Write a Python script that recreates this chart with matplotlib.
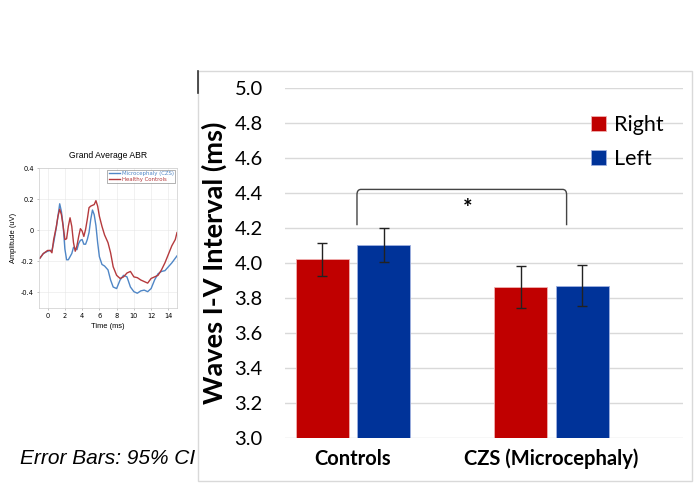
import matplotlib.pyplot as plt
from matplotlib.path import Path
from matplotlib.patches import PathPatch, Rectangle
import numpy as np

# main chart data
groups = ['Controls', 'CZS (Microcephaly)']
right = [4.02, 3.86]
left = [4.10, 3.87]
right_err = [0.095, 0.12]
left_err = [0.097, 0.118]

# inset ABR data
t_ms = [-0.9, -0.5, 0.0, 0.3, 0.5, 0.7, 1.0, 1.2, 1.4, 1.6, 1.8, 2.0, 2.2, 2.4, 2.6, 2.8,
        3.0, 3.2, 3.4, 3.6, 3.8, 4.0, 4.2, 4.4, 4.6, 4.8, 5.0, 5.2, 5.4, 5.6, 5.8, 6.0,
        6.3, 6.6, 7.0, 7.3, 7.6, 8.0, 8.4, 8.8, 9.2, 9.6, 10.0, 10.4, 10.8, 11.2, 11.6,
        12.0, 12.4, 12.8, 13.2, 13.6, 14.0, 14.4, 14.8, 15.0]
czs_abr = [-0.18, -0.15, -0.135, -0.13, -0.13, -0.08, 0.015, 0.09, 0.17, 0.12, 0.03, -0.12,
           -0.19, -0.19, -0.17, -0.15, -0.11, -0.12, -0.125, -0.085, -0.065, -0.06, -0.09,
           -0.09, -0.06, -0.015, 0.07, 0.13, 0.10, 0.03, -0.08, -0.17, -0.22, -0.23, -0.255,
           -0.32, -0.365, -0.375, -0.32, -0.29, -0.30, -0.365, -0.395, -0.405, -0.39, -0.385,
           -0.395, -0.375, -0.32, -0.28, -0.265, -0.26, -0.235, -0.21, -0.18, -0.165]
ctl_abr = [-0.18, -0.15, -0.13, -0.13, -0.145, -0.06, 0.02, 0.09, 0.135, 0.10, 0.025, -0.06,
           -0.055, 0.025, 0.08, 0.025, -0.08, -0.135, -0.10, -0.04, 0.01, -0.005, -0.04,
           0.005, 0.07, 0.145, 0.155, 0.16, 0.165, 0.19, 0.155, 0.09, 0.025, -0.03, -0.08,
           -0.145, -0.235, -0.29, -0.31, -0.30, -0.275, -0.265, -0.30, -0.305, -0.32, -0.33,
           -0.34, -0.31, -0.30, -0.29, -0.255, -0.21, -0.155, -0.10, -0.06, -0.015]

fig = plt.figure(figsize=(6.94, 4.92), dpi=100)
W, H = 694, 492


def fx(px):
    return px / W


def fy(py):
    return 1 - py / H


# frame around the bar chart
fig.patches.append(Rectangle((fx(198), fy(481)), fx(692) - fx(198), fy(71) - fy(481),
                             transform=fig.transFigure, fill=False, ec='#d9d9d9', lw=1))
fig.lines.append(plt.Line2D([fx(198), fx(198)], [fy(71), fy(93)], transform=fig.transFigure,
                            color='#333333', lw=1.2))

# ---- bar chart ----
ax = fig.add_axes([fx(285), fy(437.7), fx(683) - fx(285), fy(88) - fy(437.7)])
x = np.arange(len(groups))
w = 0.267
ax.bar(x - 0.155, right, w, color='#C00000', edgecolor='#f0b0b0', lw=0.6, label='Right', zorder=3)
ax.bar(x + 0.155, left, w, color='#003399', edgecolor='#9fb0e0', lw=0.6, label='Left', zorder=3)
ax.errorbar(x - 0.155, right, yerr=right_err, fmt='none', ecolor='#222222', elinewidth=1,
            capsize=3.5, capthick=1, zorder=4)
ax.errorbar(x + 0.155, left, yerr=left_err, fmt='none', ecolor='#222222', elinewidth=1,
            capsize=3.5, capthick=1, zorder=4)

ax.set_ylim(3.0, 5.0)
ax.set_xlim(-0.343, 1.664)
ax.set_yticks(np.arange(3.0, 5.01, 0.2))
ax.set_yticklabels(['%.1f' % v for v in np.arange(3.0, 5.01, 0.2)], fontsize=14.5,
                   family='Lato')
ax.set_xticks(x)
ax.set_xticklabels(groups, fontsize=14.5, fontweight='bold', family='Lato')
ax.tick_params(axis='y', length=0, pad=16)
ax.tick_params(axis='x', length=0, pad=8)
ax.grid(axis='y', color='#d9d9d9', lw=1, zorder=0)
for s in ax.spines.values():
    s.set_visible(False)
ax.set_ylabel('Waves I-V Interval (ms)', fontsize=19.5, fontweight='bold', family='Lato')
ax.yaxis.set_label_coords(-0.145, 0.5)

# significance bracket
bx0, bx1, by0, by1, r = 0.02, 1.077, 4.215, 4.42, 0.02
verts = [(bx0, by0), (bx0, by1 - 0.03), (bx0, by1), (bx0 + r, by1), (bx1 - r, by1),
         (bx1, by1), (bx1, by1 - 0.03), (bx1, by0)]
codes = [Path.MOVETO, Path.LINETO, Path.CURVE3, Path.CURVE3, Path.LINETO,
         Path.CURVE3, Path.CURVE3, Path.LINETO]
ax.add_patch(PathPatch(Path(verts, codes), fill=False, ec='#444444', lw=1, zorder=5))
ax.text(0.576, 4.31, '*', ha='center', va='center', fontsize=16, fontweight='bold',
        family='Lato')

ax.legend(loc='upper left', bbox_to_anchor=(fx(580), fy(104)), bbox_transform=fig.transFigure,
          frameon=False, prop={'family': 'Lato', 'size': 15.5}, handlelength=0.7,
          handleheight=0.7, handletextpad=0.4, labelspacing=0.65, borderpad=0)

# ---- inset ABR plot ----
ax2 = fig.add_axes([fx(39), fy(308), fx(177) - fx(39), fy(168) - fy(308)])
ax2.plot(t_ms, czs_abr, color='#4f86c6', lw=1.0, label='Microcephaly (CZS)')
ax2.plot(t_ms, ctl_abr, color='#b53a3d', lw=1.0, label='Healthy Controls')
ax2.set_xlim(-1, 15)
ax2.set_ylim(-0.5, 0.4)
ax2.set_xticks(range(0, 15, 2))
ax2.set_yticks([-0.4, -0.2, 0, 0.2, 0.4])
ax2.set_yticklabels(['-0.4', '-0.2', '0', '0.2', '0.4'])
ax2.tick_params(labelsize=4.8, length=1.5, width=0.4, color='#999999', pad=2)
ax2.grid(color='#e6e6e6', lw=0.4)
for s in ax2.spines.values():
    s.set_color('#cccccc')
    s.set_linewidth(0.5)
ax2.set_title('Grand Average ABR', fontsize=6.2, family='Liberation Sans', pad=7)
ax2.set_xlabel('Time (ms)', fontsize=5.4, family='Liberation Sans', labelpad=3)
ax2.set_ylabel('Amplitude (uV)', fontsize=5.4, family='Liberation Sans', labelpad=3)
leg2 = ax2.legend(loc='upper right', fontsize=3.9, handlelength=2, borderpad=0.3,
                  labelspacing=0.1, handletextpad=0.4, fancybox=False, borderaxespad=0.3)
leg2.get_frame().set_linewidth(0.4)
leg2.get_frame().set_edgecolor('#555555')
for txt, c in zip(leg2.get_texts(), ['#4f86c6', '#b53a3d']):
    txt.set_color(c)

fig.text(fx(20), fy(459), 'Error Bars: 95% CI', fontsize=15, style='italic',
         family='Liberation Sans', va='center', ha='left')

fig.savefig('out.png', dpi=100)
